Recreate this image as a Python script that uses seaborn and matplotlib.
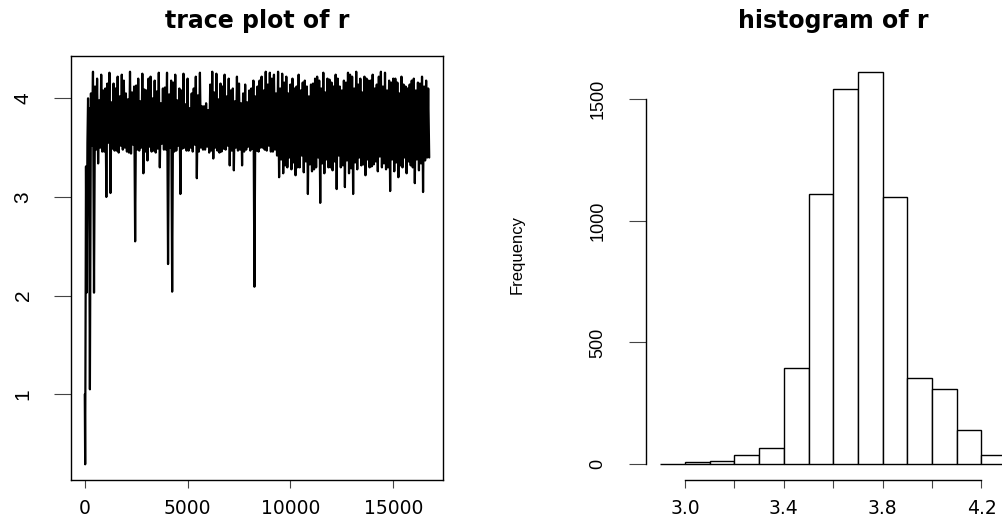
import matplotlib
matplotlib.use("Agg")
import matplotlib.pyplot as plt
import pandas as pd
import seaborn as sns

# ---------------- trace of r (MCMC chain) ----------------
# first few iterations of the chain (burn-in)
BURN_ITER = [1, 20, 40, 60, 90, 130, 160, 185]
BURN_R = [1.0, 0.29, 2.0, 3.31, 2.03, 3.55, 4.0, 3.7]

# per 200-iteration block, from iteration 200 on:
# largest upward / downward excursion of r ...
BLOCK_START = 200
BLOCK_LEN = 200
PEAK_HI = [
    3.9, 4.27,
    4.2, 4.24, 4.1, 4.26, 4.15, 4.22, 4.24, 4.05, 4.27, 4.12, 4.2, 4.25, 4.08,
    4.22, 4.18, 4.26, 4.1,
    4.26, 4.18, 4.24, 4.1, 4.25, 4.2, 4.05, 4.22, 4.26, 3.92, 3.88, 4.27, 4.25,
    4.15, 4.24, 4.2, 4.1, 4.22, 3.95, 4.14, 4.08, 4.18, 4.12,
    4.22, 4.27, 4.26, 4.24, 4.27, 4.25, 4.22, 4.14, 4.1, 4.24, 4.16, 4.12, 4.14,
    4.2, 4.18, 4.26, 4.2, 4.16, 4.24, 4.12, 4.18,
    4.26, 4.22, 4.27, 4.2, 4.22, 4.18, 4.24, 4.14, 4.27, 4.26, 4.18, 4.2, 4.16,
    4.22, 4.12, 4.14, 4.2, 4.16, 4.22, 4.18,
]
PEAK_LO = [
    1.05, 2.03, 3.34, 3.46, 3.0, 3.04, 3.47, 3.45, 3.48, 3.46, 3.44, 2.55, 3.47,
    3.24, 3.37, 3.46, 3.45, 3.3, 3.48, 2.32, 2.04, 3.47, 3.03, 3.5, 3.47, 3.46,
    3.19, 3.5, 3.48, 3.45, 3.39, 3.47, 3.46, 3.48, 3.32, 3.27, 3.47, 3.32, 3.48,
    3.47, 2.09, 3.46, 3.5, 3.47, 3.46, 3.48,
    3.2, 3.24, 3.3, 3.28, 3.22, 3.3, 3.25, 3.03, 3.26, 3.3, 2.94, 3.24, 3.3,
    3.27, 3.08, 3.3, 3.1, 3.24, 3.03, 3.28, 3.32, 3.22, 3.3, 3.33, 3.26, 3.3,
    3.28, 3.06, 3.26, 3.2, 3.3, 3.24, 3.32, 3.14, 3.27, 3.05, 3.4,
]
# ... and the smaller swing in the second half of each block
SUB_HI = [
    4.05, 4.12, 3.98, 4.08, 4.15, 3.96, 4.1, 4.02, 4.18, 3.99, 4.06, 4.13,
    3.97, 4.09, 4.2, 4.0, 4.07, 3.95,
    4.11, 4.04, 4.16, 3.98, 4.08, 3.94, 3.9, 4.1, 4.03, 3.92, 3.95, 4.14,
    4.06, 3.99, 4.12, 4.02, 4.08, 3.97, 4.15, 4.05, 3.96, 4.1, 4.02, 4.18,
    4.08, 4.14, 4.2, 4.05,
    4.1, 4.16, 4.05, 4.2, 4.12, 4.08, 4.18, 4.02, 4.15, 4.22,
    4.1, 4.06, 4.19, 4.12, 4.2, 4.08, 4.16, 4.24, 4.1, 4.14,
    4.06, 4.2, 4.18, 4.1, 4.22, 4.12, 4.08, 4.16, 4.2, 4.05,
    4.14, 4.1, 4.18, 4.08, 4.15, 4.12, 4.1,
]
SUB_LO = [
    3.52, 3.48, 3.5, 3.46, 3.55, 3.49, 3.47, 3.52, 3.5, 3.45, 3.53, 3.48,
    3.5, 3.46, 3.51, 3.47, 3.49, 3.54,
    3.48, 3.5, 3.46, 3.52, 3.49, 3.47, 3.5, 3.53, 3.46, 3.48,
    3.51, 3.47, 3.5, 3.45, 3.49, 3.52, 3.47, 3.5, 3.48, 3.46,
    3.51, 3.49, 3.47, 3.5, 3.48, 3.52, 3.46, 3.42,
    3.38, 3.32, 3.4, 3.35, 3.3, 3.42, 3.36, 3.33, 3.28, 3.4,
    3.34, 3.38, 3.3, 3.36, 3.42, 3.32, 3.37, 3.29, 3.35, 3.4,
    3.33, 3.38, 3.31, 3.36, 3.41, 3.34, 3.3, 3.38, 3.35, 3.32,
    3.4, 3.36, 3.3, 3.38, 3.34, 3.37, 3.4,
]

TRACE_XTICKS = [0, 5000, 10000, 15000]
TRACE_YTICKS = [1, 2, 3, 4]

# ---------------- histogram of r ----------------
BIN_EDGES = [2.9, 3.0, 3.1, 3.2, 3.3, 3.4, 3.5, 3.6, 3.7, 3.8, 3.9, 4.0,
             4.1, 4.2, 4.3]
BIN_COUNTS = [3, 10, 14, 40, 67, 394, 1110, 1539, 1611, 1095, 356, 311,
              141, 37]

HIST_XTICKS = [3.0, 3.2, 3.4, 3.6, 3.8, 4.0, 4.2]
HIST_XTICKLABELS = ["3.0", "", "3.4", "", "3.8", "", "4.2"]
HIST_YTICKS = [0, 500, 1000, 1500]


def r_range(lo, hi):
    """Axis range with the 4% padding used by R graphics."""
    pad = 0.04 * (hi - lo)
    return lo - pad, hi + pad


# assemble the chain: each block swings high, low, high, low
iters = list(BURN_ITER)
values = list(BURN_R)
for k in range(len(PEAK_HI)):
    start = BLOCK_START + k * BLOCK_LEN
    iters += [start, start + 50, start + 100, start + 150]
    values += [PEAK_HI[k], PEAK_LO[k], SUB_HI[k], SUB_LO[k]]
trace = pd.DataFrame({"iteration": iters, "r": values})

centers = [(a + b) / 2 for a, b in zip(BIN_EDGES[:-1], BIN_EDGES[1:])]
hist = pd.DataFrame({"r": centers, "n": BIN_COUNTS})

sns.set_theme(style="white")
plt.rcParams["font.family"] = ["DejaVu Sans"]
plt.rcParams["text.color"] = "black"
plt.rcParams["axes.labelcolor"] = "black"
plt.rcParams["xtick.color"] = "black"
plt.rcParams["ytick.color"] = "black"
plt.rcParams["axes.edgecolor"] = "black"
plt.rcParams["axes.linewidth"] = 1.0

NARROW = ["Liberation Sans Narrow", "Liberation Sans"]

W, H = 1003, 517
fig = plt.figure(figsize=(W / 100, H / 100), dpi=100)
ax1 = fig.add_axes([71 / W, 37 / H, 372 / W, 424 / H])
ax2 = fig.add_axes([646.5 / W, 37 / H, 373.5 / W, 424 / H])

# ---- left: trace plot ----
sns.lineplot(data=trace, x="iteration", y="r", sort=False, estimator=None,
             color="black", linewidth=1.6, ax=ax1)
ax1.set_xlim(r_range(min(iters), max(iters)))
ax1.set_ylim(r_range(min(values), max(values)))
ax1.set_xticks(TRACE_XTICKS, labels=[str(t) for t in TRACE_XTICKS])
ax1.set_yticks(TRACE_YTICKS, labels=[str(t) for t in TRACE_YTICKS])
for lab in ax1.get_xticklabels():
    lab.set_fontsize(13.5)
    lab.set_color("black")
for lab in ax1.get_yticklabels():
    lab.set_fontsize(15)
    lab.set_family("Liberation Sans")
    lab.set_rotation(90)
    lab.set_va("center")
    lab.set_color("black")
ax1.set_xlabel("")
ax1.set_ylabel("")
ax1.set_title("trace plot of r", fontsize=17, fontweight="bold", pad=20,
              color="black")
for side in ["left", "right", "top", "bottom"]:
    ax1.spines[side].set_visible(True)
    ax1.spines[side].set_color("black")
ax1.tick_params(axis="y", direction="out", length=12.2, width=0.8,
                color="#444444", pad=15.5, left=True)
ax1.tick_params(axis="x", direction="out", length=5.8, width=0.8,
                color="#444444", pad=8, bottom=True)

# ---- right: histogram ----
sns.histplot(data=hist, x="r", weights="n", bins=BIN_EDGES, stat="count",
             color="white", edgecolor="black", linewidth=1.0, alpha=1,
             ax=ax2)
ax2.set_xlim(r_range(BIN_EDGES[0], BIN_EDGES[-1]))
ax2.set_ylim(r_range(0, max(BIN_COUNTS)))
ax2.set_xticks(HIST_XTICKS, labels=HIST_XTICKLABELS)
ax2.set_yticks(HIST_YTICKS, labels=[str(t) for t in HIST_YTICKS])
for lab in ax2.get_xticklabels():
    lab.set_fontsize(13.5)
    lab.set_color("black")
for lab in ax2.get_yticklabels():
    lab.set_fontsize(13)
    lab.set_family(NARROW)
    lab.set_rotation(90)
    lab.set_va("center")
    lab.set_color("black")
ax2.set_xlabel("")
ax2.set_ylabel("Frequency", fontsize=12, family=NARROW, color="black")
ax2.yaxis.set_label_coords((525 - 646.5) / 373.5, (480 - 254) / 424)
ax2.set_title("histogram of r", fontsize=17, fontweight="bold", pad=20,
              color="black")
ax2.spines["top"].set_visible(False)
ax2.spines["right"].set_visible(False)
ax2.spines["left"].set_visible(True)
ax2.spines["bottom"].set_visible(True)
ax2.spines["left"].set_bounds(HIST_YTICKS[0], HIST_YTICKS[-1])
ax2.spines["bottom"].set_bounds(HIST_XTICKS[0], HIST_XTICKS[-1])
ax2.tick_params(axis="y", direction="out", length=12.2, width=0.8,
                color="#444444", pad=16.5, left=True)
ax2.tick_params(axis="x", direction="out", length=5.8, width=0.8,
                color="#444444", pad=8, bottom=True)

fig.savefig("out.png", dpi=100, facecolor="white")
